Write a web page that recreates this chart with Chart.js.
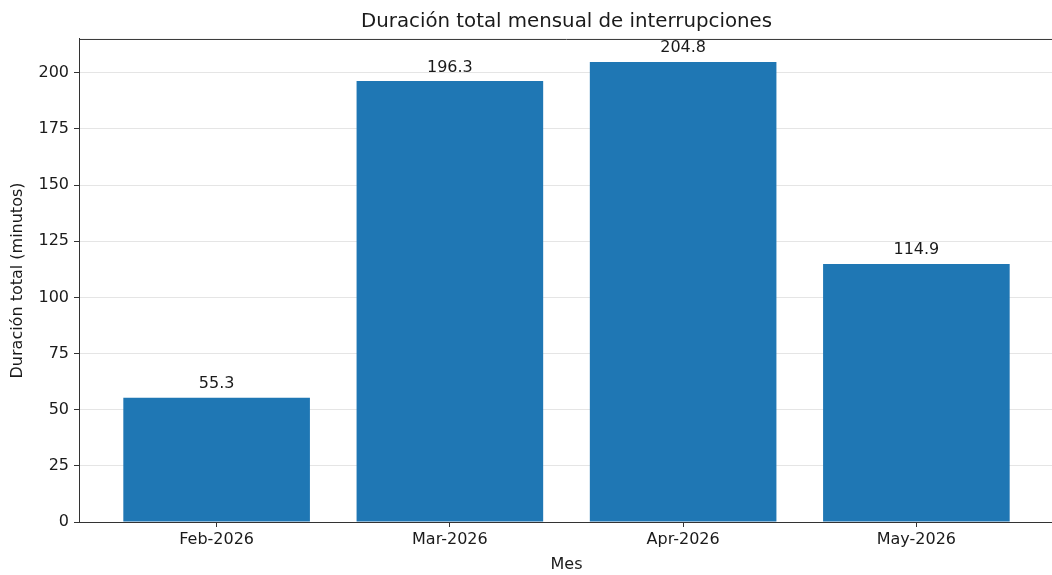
<!DOCTYPE html>
<html>
<head>
<meta charset="utf-8">
<script src="https://cdn.jsdelivr.net/npm/chart.js@4/dist/chart.umd.min.js"></script>
<style>
  html, body { margin: 0; padding: 0; background: #fff; overflow: hidden; }
  #wrap { width: 1052px; height: 575px; overflow: hidden; }
  canvas { display: block; }
</style>
</head>
<body>
<div id="wrap"><canvas id="c" width="1056" height="575"></canvas></div>
<script>
const categories = ["Feb-2026", "Mar-2026", "Apr-2026", "May-2026"];
const durations = [55.3, 196.3, 204.8, 114.9];
const yTicks = [0, 25, 50, 75, 100, 125, 150, 175, 200];
const chartTitle = "Duración total mensual de interrupciones";
const xTitle = "Mes";
const yTitle = "Duración total (minutos)";

const FONT = "'DejaVu Sans', sans-serif";
const TEXT = "#1a1a1a";
const AXIS = "#333333";

const barLabels = {
  id: 'barLabels',
  afterDatasetsDraw(chart) {
    const ctx = chart.ctx;
    const meta = chart.getDatasetMeta(0);
    ctx.save();
    ctx.font = "16px " + FONT;
    ctx.fillStyle = TEXT;
    ctx.textAlign = 'center';
    ctx.textBaseline = 'alphabetic';
    meta.data.forEach((bar, i) => {
      ctx.fillText(durations[i].toFixed(1), bar.x, bar.y - 9.5);
    });
    ctx.restore();
  }
};

const frame = {
  id: 'frame',
  afterDraw(chart) {
    const {ctx, chartArea: a} = chart;
    ctx.save();
    ctx.strokeStyle = AXIS;
    ctx.lineWidth = 1;
    ctx.beginPath();
    ctx.moveTo(a.left, a.top + 0.5);
    ctx.lineTo(a.right, a.top + 0.5);
    ctx.moveTo(a.right - 0.5, a.top);
    ctx.lineTo(a.right - 0.5, a.bottom);
    ctx.stroke();
    ctx.restore();
  }
};

new Chart(document.getElementById('c'), {
  type: 'bar',
  data: {
    datasets: [{
      data: durations.map((v, i) => ({x: i, y: v})),
      backgroundColor: '#1f77b4',
      borderWidth: 0,
      barPercentage: 0.8,
      categoryPercentage: 1.0
    }]
  },
  options: {
    responsive: false,
    animation: false,
    devicePixelRatio: 1,
    layout: { padding: { left: 0, right: 2, top: 0, bottom: 0 } },
    plugins: {
      legend: { display: false },
      tooltip: { enabled: false },
      title: {
        display: true,
        text: chartTitle,
        fullSize: false,
        color: TEXT,
        font: { family: FONT, size: 19.8, weight: 'normal' },
        padding: { top: 9.5, bottom: 5.7 }
      }
    },
    scales: {
      x: {
        type: 'linear',
        offset: false,
        min: -0.59,
        max: 3.59,
        afterBuildTicks: (s) => { s.ticks = categories.map((c, i) => ({value: i})); },
        afterFit: (s) => { s.height = 53; },
        ticks: {
          callback: (v) => categories[v],
          color: TEXT,
          font: { family: FONT, size: 16 },
          padding: 3,
          maxRotation: 0,
          autoSkip: false
        },
        grid: { display: true, offset: false, drawOnChartArea: false, drawTicks: true, tickLength: 5, tickColor: AXIS, tickWidth: 1 },
        border: { display: true, color: AXIS, width: 1 },
        title: {
          display: true, text: xTitle, color: TEXT,
          font: { family: FONT, size: 16 },
          padding: { top: 2, bottom: 1 }
        }
      },
      y: {
        min: 0,
        max: 215.04,
        z: 1,
        afterBuildTicks: (s) => { s.ticks = yTicks.map(v => ({value: v})); },
        afterFit: (s) => { s.width = 79; },
        ticks: {
          color: TEXT,
          font: { family: FONT, size: 16 },
          padding: 5
        },
        grid: { color: 'rgba(0,0,0,0.1)', lineWidth: 1, drawTicks: true, tickLength: 5, tickColor: AXIS, tickWidth: 1 },
        border: { display: true, color: AXIS, width: 1 },
        title: {
          display: true, text: yTitle, color: TEXT,
          font: { family: FONT, size: 16 },
          padding: { top: 8.5, bottom: 0 }
        }
      }
    }
  },
  plugins: [barLabels, frame]
});
</script>
</body>
</html>
